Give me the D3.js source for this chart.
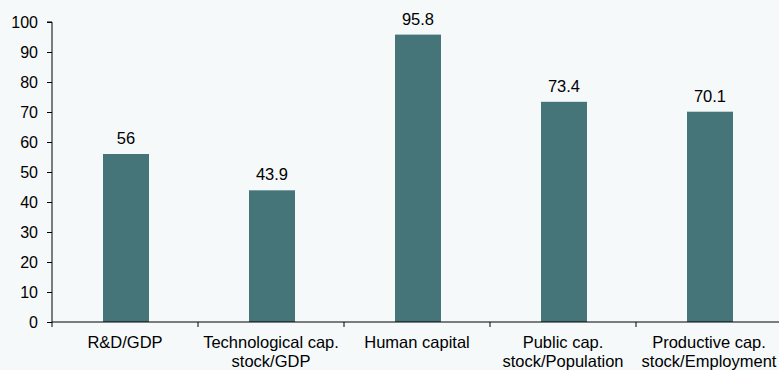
<!DOCTYPE html>
<html>
<head>
<meta charset="utf-8">
<script src="https://cdn.jsdelivr.net/npm/d3@7"></script>
<style>
  body { margin: 0; background: #f5f9fa; }
  svg { display: block; font-family: "Liberation Sans", Arial, sans-serif; }
</style>
</head>
<body>
<svg width="779" height="370"></svg>
<script>
const categories = [
  ["R&D/GDP"],
  ["Technological cap.", "stock/GDP"],
  ["Human capital"],
  ["Public cap.", "stock/Population"],
  ["Productive cap.", "stock/Employment"]
];
const values = [56, 43.9, 95.8, 73.4, 70.1];
const yTicks = [0, 10, 20, 30, 40, 50, 60, 70, 80, 90, 100];

const svg = d3.select("svg");
const mLeft = 52, mRight = 782, mTop = 22, mBottom = 322;

const x = d3.scaleBand()
  .domain(d3.range(values.length))
  .range([mLeft, mRight])
  .paddingInner(0)
  .paddingOuter(0);

const y = d3.scaleLinear().domain([0, 100]).range([mBottom, mTop]);

const barW = 46;

svg.append("rect").attr("width", 779).attr("height", 370).attr("fill", "#f5f9fa");

// bars
svg.selectAll(".bar")
  .data(values)
  .enter().append("rect")
  .attr("x", (d, i) => x(i) + x.bandwidth() / 2 - barW / 2 + 1)
  .attr("y", d => y(d))
  .attr("width", barW)
  .attr("height", d => y(0) - y(d))
  .attr("fill", "#457579");

// value labels
svg.selectAll(".val")
  .data(values)
  .enter().append("text")
  .attr("x", (d, i) => x(i) + x.bandwidth() / 2 + 1)
  .attr("y", d => y(d) - 10)
  .attr("text-anchor", "middle")
  .attr("font-size", 16.5)
  .attr("fill", "#000")
  .text(d => d);

// y axis
const yAxis = d3.axisLeft(y).tickValues(yTicks).tickSize(5).tickPadding(9);
const gy = svg.append("g").attr("transform", `translate(${mLeft},0)`).call(yAxis);
gy.select(".domain").attr("d", `M-5,${mTop}H0V${mBottom}`).attr("stroke", "#000");
gy.selectAll("text").attr("font-size", 16).attr("fill", "#000").attr("font-family", "Liberation Sans, Arial, sans-serif");
gy.selectAll("line").attr("stroke", "#000");

// x axis
const gx = svg.append("g").attr("transform", `translate(0,${mBottom})`);
gx.append("line").attr("x1", mLeft).attr("x2", mRight).attr("stroke", "#000").attr("stroke-width", 1.2);
const bounds = d3.range(values.length + 1).map(i => mLeft + i * x.step());
gx.selectAll(".xt")
  .data(bounds)
  .enter().append("line")
  .attr("x1", d => d).attr("x2", d => d)
  .attr("y1", 0).attr("y2", 5)
  .attr("stroke", "#000");

gx.selectAll(".lab")
  .data(categories)
  .enter().append("text")
  .attr("text-anchor", "middle")
  .attr("font-size", 16.5)
  .attr("fill", "#000")
  .attr("transform", (d, i) => `translate(${x(i) + x.bandwidth() / 2},0)`)
  .each(function(d) {
    d3.select(this).selectAll("tspan")
      .data(d)
      .enter().append("tspan")
      .attr("x", 0)
      .attr("y", (t, j) => 26 + j * 18.5)
      .text(t => t);
  });
</script>
</body>
</html>
